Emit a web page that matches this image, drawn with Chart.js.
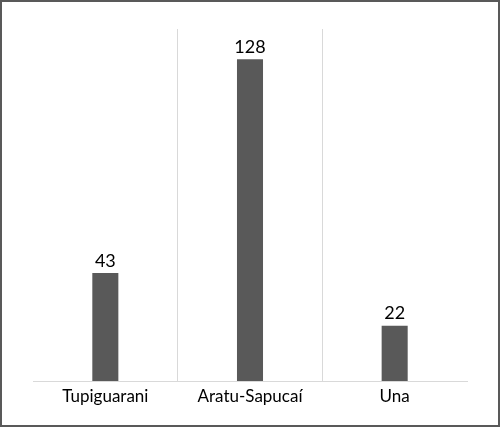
<!DOCTYPE html>
<html>
<head>
<meta charset="utf-8">
<script src="https://cdn.jsdelivr.net/npm/chart.js"></script>
<style>
  html, body { margin: 0; padding: 0; background: #fff; }
  #wrap { width: 500px; height: 427px; position: relative; }
</style>
</head>
<body>
<div id="wrap"><canvas id="grafico" width="500" height="427"></canvas></div>
<script>
// datos del grafico
var categorias = ['Tupiguarani', 'Aratu-Sapucaí', 'Una'];
var valores = [43, 128, 22];
var ejeMin = 0;
var ejeMax = 140;

// etiquetas encima de cada barra
var etiquetasBarras = {
  id: 'etiquetasBarras',
  afterDatasetsDraw: function (chart) {
    var ctx = chart.ctx;
    var meta = chart.getDatasetMeta(0);
    ctx.save();
    ctx.font = '18px Lato';
    ctx.fillStyle = '#000';
    ctx.textAlign = 'center';
    ctx.textBaseline = 'bottom';
    meta.data.forEach(function (barra, i) {
      ctx.fillText(String(valores[i]), barra.x, barra.y - 3);
    });
    ctx.restore();
  }
};

// marco exterior
var marco = {
  id: 'marco',
  afterDraw: function (chart) {
    var ctx = chart.ctx;
    ctx.save();
    ctx.strokeStyle = '#595959';
    ctx.lineWidth = 2;
    ctx.strokeRect(1, 1, chart.width - 2, chart.height - 2);
    ctx.restore();
  }
};

new Chart(document.getElementById('grafico').getContext('2d'), {
  type: 'bar',
  data: {
    labels: categorias,
    datasets: [{
      data: valores,
      backgroundColor: '#595959',
      barPercentage: 0.36,
      categoryPercentage: 0.5
    }]
  },
  options: {
    responsive: false,
    animation: false,
    layout: { padding: { left: 33, right: 33, top: 29, bottom: 0 } },
    plugins: { legend: { display: false }, tooltip: { enabled: false } },
    scales: {
      x: {
        afterFit: function (scale) { scale.height = 46; },
        grid: {
          drawTicks: false,
          color: function (c) {
            return (c.type === 'tick' && c.index > 0) ? '#d9d9d9' : 'rgba(0,0,0,0)';
          }
        },
        border: { display: true, color: '#d9d9d9' },
        ticks: { color: '#000', font: { family: 'Lato', size: 17 }, padding: 5 }
      },
      y: {
        display: false,
        min: ejeMin,
        max: ejeMax
      }
    }
  },
  plugins: [etiquetasBarras, marco]
});
</script>
</body>
</html>
